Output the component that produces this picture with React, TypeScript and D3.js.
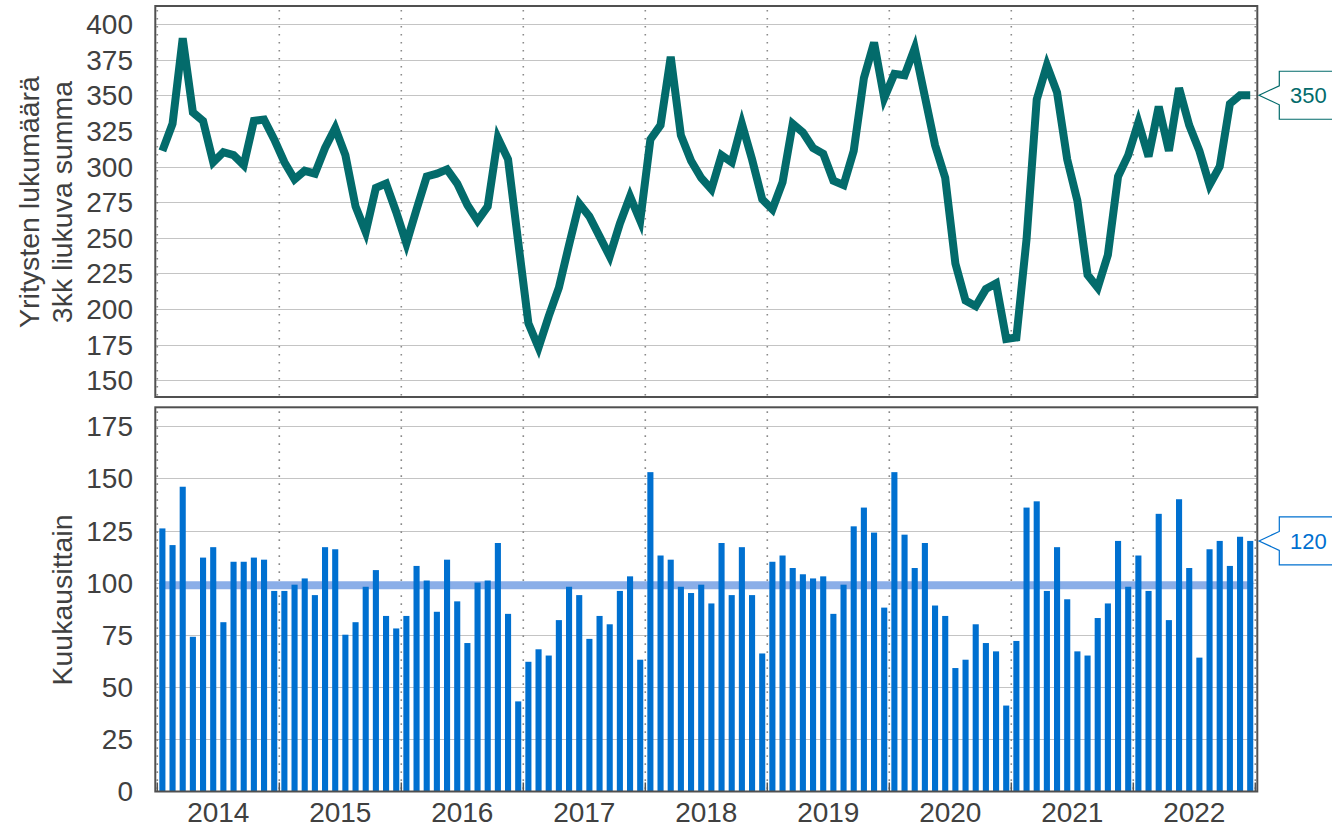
import React, { useEffect, useRef } from "react";
import * as d3 from "d3";

const years = ["2014", "2015", "2016", "2017", "2018", "2019", "2020", "2021", "2022"];
const monthNums = ["01", "02", "03", "04", "05", "06", "07", "08", "09", "10", "11", "12"];

// kuukausittain (monthly)
const monthly = [
  126, 118, 146, 74, 112, 117, 81, 110, 110, 112, 111, 96,
  96, 99, 102, 94, 117, 116, 75, 81, 98, 106, 84, 78,
  84, 108, 101, 86, 111, 91, 71, 100, 101, 119, 85, 43,
  62, 68, 65, 82, 98, 94, 73, 84, 80, 96, 103, 63,
  153, 113, 111, 98, 95, 99, 90, 119, 94, 117, 94, 66,
  110, 113, 107, 104, 102, 103, 85, 99, 127, 136, 124, 88,
  153, 123, 107, 119, 89, 84, 59, 63, 80, 71, 67, 41,
  72, 136, 139, 96, 117, 92, 67, 65, 83, 90, 120, 98,
  113, 96, 133, 82, 140, 107, 64, 116, 120, 108, 122, 120,
];

// 3kk liukuva summa
const rolling3 = [
  311, 330, 390, 338, 332, 303, 310, 308, 301, 332, 333, 319,
  303, 291, 297, 295, 313, 327, 308, 272, 254, 285, 288, 268,
  246, 270, 293, 295, 298, 288, 273, 262, 272, 320, 305, 247,
  190, 173, 195, 215, 245, 274, 265, 251, 237, 260, 279, 262,
  319, 329, 377, 322, 304, 292, 284, 308, 303, 330, 305, 277,
  270, 289, 330, 324, 313, 309, 290, 287, 311, 362, 387, 348,
  365, 364, 383, 349, 315, 292, 232, 206, 202, 214, 218, 179,
  180, 249, 347, 371, 352, 305, 276, 224, 215, 238, 293, 308,
  331, 307, 342, 311, 355, 329, 311, 287, 300, 344, 350, 350,
];

const topTicks = [150, 175, 200, 225, 250, 275, 300, 325, 350, 375, 400];
const bottomTicks = [0, 25, 50, 75, 100, 125, 150, 175];
const referenceLevel = 98.7;

const W = 1332;
const H = 828;
const FONT = "'Liberation Sans', Arial, sans-serif";
const TEXT = "#404040";
const TEAL = "#036b6b";
const BLUE = "#0070d0";

export default function App() {
  const svgRef = useRef<SVGSVGElement>(null);

  useEffect(() => {
    const svg = d3.select(svgRef.current);
    svg.selectAll("*").remove();

    const months = years.flatMap((y) => monthNums.map((m) => `${y}-${m}`));
    const x = d3.scaleBand().domain(months).range([157.3, 1255.3]).paddingInner(0.4).paddingOuter(0.2);
    const cx = (m: string) => (x(m) as number) + x.bandwidth() / 2;
    const boundaries = years
      .map((y) => (x(`${y}-01`) as number) - x.step() * x.paddingOuter())
      .concat([x.range()[1]]);

    const frameL = 155.3;
    const frameR = 1257.3;
    const top = { y0: 6, y1: 397 };
    const bot = { y0: 407.3, y1: 791.5 };

    const yTop = d3.scaleLinear().domain([150, 400]).range([380.3, 24]);
    const yBot = d3.scaleLinear().domain([0, 175]).range([791, 426.3]);

    const panel = (p: { y0: number; y1: number }, y: d3.ScaleLinear<number, number>, ticks: number[]) => {
      const g = svg.append("g");
      g.selectAll(".grid")
        .data(ticks.filter((t) => y(t) > p.y0 + 2 && y(t) < p.y1 - 2))
        .join("line")
        .attr("x1", frameL)
        .attr("x2", frameR)
        .attr("y1", (d) => Math.round(y(d)) + 0.5)
        .attr("y2", (d) => Math.round(y(d)) + 0.5)
        .attr("stroke", "#c4c4c4")
        .attr("stroke-width", 1);
      g.selectAll(".sep")
        .data(boundaries)
        .join("line")
        .attr("x1", (d) => d)
        .attr("x2", (d) => d)
        .attr("y1", p.y0 + 4)
        .attr("y2", p.y1)
        .attr("stroke", "#8a8a8a")
        .attr("stroke-width", 1.6)
        .attr("stroke-dasharray", "1.6,6.4");
      g.selectAll(".lab")
        .data(ticks)
        .join("text")
        .attr("x", 133)
        .attr("y", (d) => y(d))
        .attr("dy", "0.36em")
        .attr("text-anchor", "end")
        .attr("font-family", FONT)
        .attr("font-size", 28)
        .attr("fill", TEXT)
        .text((d) => d);
      return g;
    };

    // top panel: line
    panel(top, yTop, topTicks);
    const line = d3
      .line<number>()
      .x((d, i) => cx(months[i]))
      .y((d) => yTop(d));
    svg
      .append("path")
      .attr("d", line(rolling3))
      .attr("fill", "none")
      .attr("stroke", TEAL)
      .attr("stroke-width", 8);

    // bottom panel: bars
    panel(bot, yBot, bottomTicks);
    svg
      .append("line")
      .attr("x1", x(months[0]) as number)
      .attr("x2", (x(months[months.length - 1]) as number) + x.bandwidth())
      .attr("y1", yBot(referenceLevel))
      .attr("y2", yBot(referenceLevel))
      .attr("stroke", "#8aaee8")
      .attr("stroke-width", 8);
    svg
      .append("g")
      .selectAll("rect")
      .data(monthly)
      .join("rect")
      .attr("x", (d, i) => x(months[i]) as number)
      .attr("width", x.bandwidth())
      .attr("y", (d) => yBot(d))
      .attr("height", (d) => yBot(0) - yBot(d))
      .attr("fill", BLUE);

    // year ticks on bottom axis
    svg
      .append("g")
      .selectAll("line")
      .data(boundaries)
      .join("line")
      .attr("x1", (d) => d)
      .attr("x2", (d) => d)
      .attr("y1", bot.y1 - 9)
      .attr("y2", bot.y1)
      .attr("stroke", "#555")
      .attr("stroke-width", 1.5);

    // frames
    [top, bot].forEach((p) => {
      svg
        .append("rect")
        .attr("x", frameL)
        .attr("y", p.y0)
        .attr("width", frameR - frameL)
        .attr("height", p.y1 - p.y0)
        .attr("fill", "none")
        .attr("stroke", "#505050")
        .attr("stroke-width", 2);
    });

    // year labels
    svg
      .append("g")
      .selectAll("text")
      .data(years)
      .join("text")
      .attr("x", (d, i) => (boundaries[i] + boundaries[i + 1]) / 2)
      .attr("y", 822)
      .attr("text-anchor", "middle")
      .attr("font-family", FONT)
      .attr("font-size", 28)
      .attr("fill", TEXT)
      .text((d) => d);

    // axis titles
    const title = (lines: string[], xs: number[], yc: number) => {
      lines.forEach((t, i) => {
        svg
          .append("text")
          .attr("transform", `translate(${xs[i]},${yc}) rotate(-90)`)
          .attr("text-anchor", "middle")
          .attr("font-family", FONT)
          .attr("font-size", 28.5)
          .attr("fill", TEXT)
          .text(t);
      });
    };
    title(["Yritysten lukumäärä", "3kk liukuva summa"], [39, 72], 202);
    title(["Kuukausittain"], [72], 600);

    // callouts
    const callout = (yv: number, label: string, color: string) => {
      const tip = 1259;
      const bx = 1279.3;
      const pts: [number, number][] = [
        [tip, yv],
        [bx, yv - 9.5],
        [bx, yv - 24],
        [W + 5, yv - 24],
        [W + 5, yv + 24],
        [bx, yv + 24],
        [bx, yv + 9.5],
      ];
      svg
        .append("polygon")
        .attr("points", pts.map((p) => p.join(",")).join(" "))
        .attr("fill", "#fff")
        .attr("stroke", color)
        .attr("stroke-width", 1.2);
      svg
        .append("text")
        .attr("x", 1290)
        .attr("y", yv)
        .attr("dy", "0.36em")
        .attr("font-family", FONT)
        .attr("font-size", 22)
        .attr("fill", color)
        .text(label);
    };
    const lastTop = rolling3[rolling3.length - 1];
    const lastBot = monthly[monthly.length - 1];
    callout(yTop(lastTop), String(lastTop), TEAL);
    callout(yBot(lastBot), String(lastBot), BLUE);
  }, []);

  return (
    <svg
      ref={svgRef}
      width={W}
      height={H}
      style={{ position: "absolute", left: 0, top: 0, background: "#fff", display: "block" }}
    />
  );
}
